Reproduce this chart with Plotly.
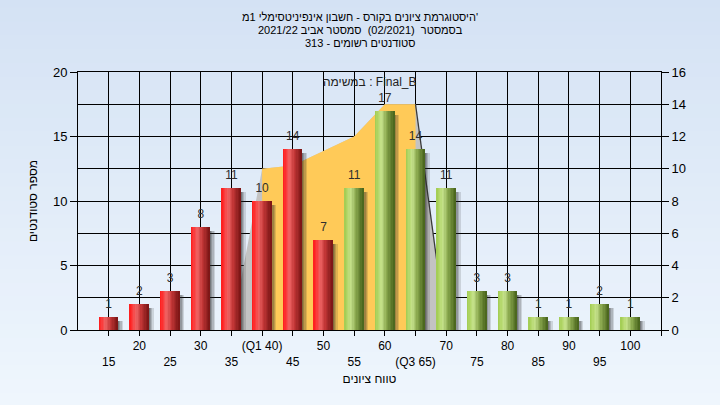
import plotly.graph_objects as go

# ---------------- data ----------------
grades = [15, 20, 25, 30, 35, 40, 45, 50, 55, 60, 65, 70, 75, 80, 85, 90, 95, 100]
counts = [1, 2, 3, 8, 11, 10, 14, 7, 11, 17, 14, 11, 3, 3, 1, 1, 2, 1]
tick_labels = ["15", "20", "25", "30", "35", "(Q1 40)", "45", "50", "55", "60",
               "(Q3 65)", "70", "75", "80", "85", "90", "95", "100"]
pass_mark = 55

# Final_B band (right axis units)
band_x = [35, 40, 45, 50, 55, 60, 65, 70]
band_y = [0, 10, 10.2, 11.1, 12, 14, 14, 0]
q1, q3 = 40, 65

title_lines = ["היסטוגרמת ציונים בקורס - חשבון אינפיניטסימלי 1מ'",
               "בסמסטר\u00a0 (02/2021)\u00a0 סמסטר אביב 2021/22",
               "סטודנטים רשומים - 313"]
x_title = "טווח ציונים"
y_title = "מספר סטודנטים"
legend_text = "במשימה : Final_B"

FONT = "Liberation Sans, Arial, sans-serif"

# ---------------- helpers ----------------
def lerp_stops(stops, t):
    for (p0, c0), (p1, c1) in zip(stops[:-1], stops[1:]):
        if p0 <= t <= p1:
            f = (t - p0) / (p1 - p0) if p1 > p0 else 0
            c = [round(a + (b - a) * f) for a, b in zip(c0, c1)]
            return "rgb(%d,%d,%d)" % tuple(c)
    return "rgb(%d,%d,%d)" % tuple(stops[-1][1])

red_stops = [(0.0, (255, 25, 25)), (0.15, (252, 55, 55)), (0.35, (238, 100, 100)),
             (0.6, (195, 55, 55)), (1.0, (120, 20, 20))]
green_stops = [(0.0, (160, 204, 80)), (0.15, (178, 214, 104)), (0.35, (198, 226, 140)),
               (0.6, (140, 170, 80)), (1.0, (70, 98, 26))]

fig = go.Figure()

# background gradient (paper)
n_bands = 30
top_c = (212, 226, 244)
bot_c = (239, 246, 253)
y_hi, y_lo = 1.3, -0.3
for i in range(n_bands):
    f = i / (n_bands - 1)
    c = tuple(round(a + (b - a) * f) for a, b in zip(top_c, bot_c))
    y1 = y_hi - (y_hi - y_lo) * i / n_bands
    y0 = y_hi - (y_hi - y_lo) * (i + 1) / n_bands
    fig.add_shape(type="rect", xref="paper", yref="paper", x0=-0.5, x1=1.5,
                  y0=y0 - 0.002, y1=y1 + 0.002, line_width=0,
                  fillcolor="rgb(%d,%d,%d)" % c, layer="below")

# Final_B band on base (right) axis
fig.add_trace(go.Scatter(x=band_x, y=band_y, mode="lines", fill="tozeroy",
                         fillcolor="#c3c3c3", line=dict(width=0),
                         hoverinfo="skip", showlegend=False, xaxis="x", yaxis="y"))
yx = [x for x in band_x if q1 <= x <= q3]
yy = [y for x, y in zip(band_x, band_y) if q1 <= x <= q3]
fig.add_trace(go.Scatter(x=yx, y=yy, mode="lines", fill="tozeroy",
                         fillcolor="#ffca58", line=dict(width=0, color="#ffca58"),
                         hoverinfo="skip", showlegend=False, xaxis="x", yaxis="y"))
rx = [x for x in band_x if x >= q3]
ry = [y for x, y in zip(band_x, band_y) if x >= q3]
fig.add_trace(go.Scatter(x=rx, y=ry, mode="lines", line=dict(width=1.3, color="#3a3a3a"),
                         hoverinfo="skip", showlegend=False, xaxis="x", yaxis="y"))

# bars (left axis = y2), drawn as vertical strips for a cylinder look
W = 3.1
shadow_alpha = [0.6, 0.45, 0.3, 0.15]
sw = 0.22
for k, a in enumerate(shadow_alpha):
    fig.add_trace(go.Bar(x=grades, y=[c - 0.3 for c in counts], width=sw,
                         offset=W / 2 - 0.1 + k * sw,
                         marker=dict(color="rgba(40,40,40,%.2f)" % a, line_width=0),
                         hoverinfo="skip", showlegend=False, xaxis="x", yaxis="y2"))
N = 14
for i in range(N):
    t = (i + 0.5) / N
    cols = [lerp_stops(green_stops if g >= pass_mark else red_stops, t) for g in grades]
    fig.add_trace(go.Bar(x=grades, y=counts, width=W / N * 1.06,
                         offset=-W / 2 + i * W / N,
                         marker=dict(color=cols, line_width=0),
                         hoverinfo="skip", showlegend=False, xaxis="x", yaxis="y2"))

# value labels
fig.add_trace(go.Scatter(x=grades, y=counts, mode="markers+text", text=[str(c) for c in counts],
                         textposition="top center",
                         marker=dict(size=8, opacity=0),
                         textfont=dict(family=FONT, size=12, color="#2e2e2e"),
                         cliponaxis=False, hoverinfo="skip", showlegend=False,
                         xaxis="x", yaxis="y2"))

ticktext = [lab if i % 2 == 1 else "<br>" + lab for i, lab in enumerate(tick_labels)]

fig.update_layout(
    width=720, height=405, autosize=False,
    margin=dict(l=78, r=59, t=72, b=75, pad=0),
    paper_bgcolor="#e4edf8", plot_bgcolor="#b4b4b4",
    barmode="overlay", bargap=0,
    font=dict(family=FONT, size=12, color="#000"),
    xaxis=dict(range=[10, 105], tickvals=grades + [105], ticktext=ticktext + [""],
               showgrid=True, gridcolor="#000", gridwidth=1,
               ticks="outside", ticklen=5, tickcolor="#000",
               showline=True, linecolor="#000", linewidth=1, mirror=True,
               zeroline=False, tickangle=0,
               tickfont=dict(family=FONT, size=12, color="#000"),
               title=dict(text=x_title, standoff=6,
                          font=dict(family=FONT, size=12, color="#000"))),
    yaxis=dict(range=[0, 16], tickvals=list(range(0, 17, 2)), side="right",
               showgrid=True, gridcolor="#000", gridwidth=1,
               ticks="outside", ticklen=7, tickcolor="#000",
               showline=True, linecolor="#000", linewidth=1, zeroline=False,
               tickfont=dict(family=FONT, size=13, color="#000")),
    yaxis2=dict(range=[0, 20], tickvals=[0, 5, 10, 15, 20], overlaying="y", side="left",
                showgrid=False, ticks="outside", ticklen=7, tickcolor="#000",
                showline=True, linecolor="#000", linewidth=1, zeroline=False,
                tickfont=dict(family=FONT, size=13, color="#000"),
                title=dict(text=y_title, standoff=12,
                           font=dict(family=FONT, size=12, color="#000"))),
)

# titles
title_px = [17, 30.5, 43]
for line, py in zip(title_lines, title_px):
    fig.add_annotation(text=line, xref="paper", yref="paper",
                       x=(360 - 78) / 583, y=(330 - py) / 258,
                       xanchor="center", yanchor="middle", showarrow=False,
                       font=dict(family=FONT, size=11, color="#000"))

fig.add_annotation(text=legend_text, xref="paper", yref="paper",
                   x=0.5, y=(330 - 82.5) / 258, xanchor="center", yanchor="middle",
                   showarrow=False, borderpad=0,
                   font=dict(family=FONT, size=12, color="#222"))

fig.write_html("out.html", config={"displayModeBar": False},
               post_script="document.body.style.margin='0';"
                           "document.body.style.background='#e4edf8';")
